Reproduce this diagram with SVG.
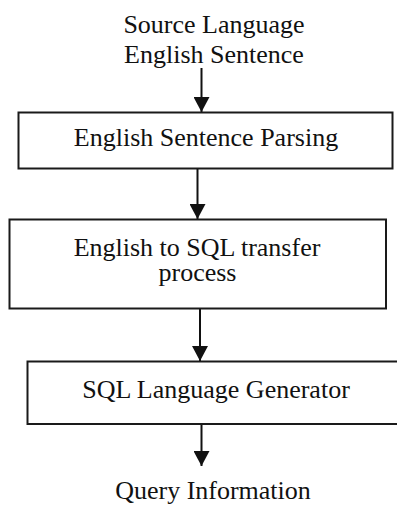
<svg xmlns="http://www.w3.org/2000/svg" width="397" height="505" viewBox="0 0 397 505">
  <style>
    .box { fill: #ffffff; stroke: #1a1a1a; stroke-width: 2; }
    .lbl { font-family: "Liberation Serif", "Times New Roman", serif; font-size: 26px; fill: #111111; text-anchor: middle; }
    .flow { stroke: #111111; stroke-width: 2; fill: none; marker-end: url(#head); }
  </style>
  <defs>
    <marker id="head" markerUnits="userSpaceOnUse" markerWidth="18" markerHeight="16" refX="15" refY="8" orient="auto">
      <path d="M0,0 L15,8 L0,16 Z" fill="#111111"/>
    </marker>
  </defs>
  <rect width="397" height="505" fill="#ffffff"/>

  <!-- flow connectors -->
  <g id="connectors">
    <line class="flow" x1="201.5" y1="68" x2="201.5" y2="112"/>
    <line class="flow" x1="197.5" y1="169" x2="197.5" y2="219"/>
    <line class="flow" x1="200" y1="309" x2="200" y2="361"/>
    <line class="flow" x1="201.5" y1="425" x2="201.5" y2="466"/>
  </g>

  <!-- input sentence -->
  <g id="source">
    <text class="lbl" x="214" y="33">Source Language</text>
    <text class="lbl" x="214" y="63">English Sentence</text>
  </g>

  <g id="parsing">
    <rect class="box" x="18.5" y="112.5" width="374" height="56"/>
    <text class="lbl" x="206" y="146">English Sentence Parsing</text>
  </g>

  <g id="transfer">
    <rect class="box" x="9.5" y="219.5" width="376.5" height="89"/>
    <text class="lbl" x="197" y="256">English to SQL transfer</text>
    <text class="lbl" x="197.5" y="281">process</text>
  </g>

  <g id="generator">
    <rect class="box" x="27.5" y="361.5" width="380" height="62.5"/>
    <text class="lbl" x="216" y="398">SQL Language Generator</text>
  </g>

  <!-- final output -->
  <g id="output">
    <text class="lbl" x="213" y="499">Query Information</text>
  </g>
</svg>
